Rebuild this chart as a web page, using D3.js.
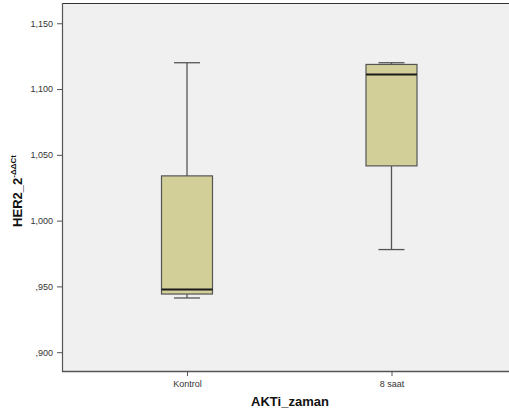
<!DOCTYPE html>
<html><head><meta charset="utf-8">
<script src="https://cdn.jsdelivr.net/npm/d3@7"></script>
<style>body{margin:0;background:#fff}svg{display:block}</style>
</head><body>
<svg id="c" width="509" height="414"></svg>
<script>
const categories = ["Kontrol", "8 saat"];
const mins    = [0.9412, 0.978];
const q1s     = [0.9442, 1.0416];
const medians = [0.9477, 1.111];
const q3s     = [1.034, 1.1187];
const maxs    = [1.120, 1.120];
const yTicks  = [0.90, 0.95, 1.00, 1.05, 1.10, 1.15];
const yTickLabels = [",900", ",950", "1,000", "1,050", "1,100", "1,150"];

const svg = d3.select("#c");
const L = 62, R = 507, T = 3, B = 371;
const y = d3.scaleLinear().domain([0.8857, 1.1654]).range([B, T]);
const x = d3.scalePoint().domain(categories).range([187, 391.5]);

svg.append("rect").attr("x", L).attr("y", T).attr("width", R - L + 2).attr("height", B - T)
  .attr("fill", "#f0f0f0");
svg.append("line").attr("x1", L).attr("x2", 509).attr("y1", T + 0.5).attr("y2", T + 0.5)
  .attr("stroke", "#333").attr("stroke-width", 1);
svg.append("line").attr("x1", L).attr("x2", 509).attr("y1", B + 0.5).attr("y2", B + 0.5)
  .attr("stroke", "#555").attr("stroke-width", 1.5);
svg.append("line").attr("x1", L + 0.5).attr("x2", L + 0.5).attr("y1", T).attr("y2", B + 1)
  .attr("stroke", "#555").attr("stroke-width", 1.2);

// y axis
const yAxis = d3.axisLeft(y).tickValues(yTicks).tickSize(5)
  .tickFormat((d, i) => yTickLabels[i]);
const gy = svg.append("g").attr("transform", `translate(${L},0)`).call(yAxis);
gy.select(".domain").remove();
gy.selectAll("line").attr("stroke", "#555");
gy.selectAll("text").attr("font-family", "Liberation Sans, Arial, sans-serif")
  .attr("font-size", 9).attr("fill", "#333").attr("dx", "-1");

// x axis
const xAxis = d3.axisBottom(x).tickSize(5);
const gx = svg.append("g").attr("transform", `translate(0,${B})`).call(xAxis);
gx.select(".domain").remove();
gx.selectAll("line").attr("stroke", "#555");
gx.selectAll("text").attr("font-family", "Liberation Sans, Arial, sans-serif")
  .attr("font-size", 9).attr("fill", "#333").attr("dy", "0.9em");

// boxes
const boxW = 51, capW = 26;
const data = categories.map((c, i) => ({c, min: mins[i], q1: q1s[i], med: medians[i], q3: q3s[i], max: maxs[i]}));
const g = svg.append("g").selectAll("g").data(data).join("g");
g.append("line").attr("x1", d => x(d.c)).attr("x2", d => x(d.c))
  .attr("y1", d => y(d.max)).attr("y2", d => y(d.q3)).attr("stroke", "#555").attr("stroke-width", 1.3);
g.append("line").attr("x1", d => x(d.c)).attr("x2", d => x(d.c))
  .attr("y1", d => y(d.q1)).attr("y2", d => y(d.min)).attr("stroke", "#555").attr("stroke-width", 1.3);
g.append("line").attr("x1", d => x(d.c) - capW / 2).attr("x2", d => x(d.c) + capW / 2)
  .attr("y1", d => y(d.max)).attr("y2", d => y(d.max)).attr("stroke", "#555").attr("stroke-width", 1.3);
g.append("line").attr("x1", d => x(d.c) - capW / 2).attr("x2", d => x(d.c) + capW / 2)
  .attr("y1", d => y(d.min)).attr("y2", d => y(d.min)).attr("stroke", "#555").attr("stroke-width", 1.3);
g.append("rect").attr("x", d => x(d.c) - boxW / 2).attr("width", boxW)
  .attr("y", d => y(d.q3)).attr("height", d => y(d.q1) - y(d.q3))
  .attr("fill", "#d3cf98").attr("stroke", "#555").attr("stroke-width", 1.2);
g.append("line").attr("x1", d => x(d.c) - boxW / 2).attr("x2", d => x(d.c) + boxW / 2)
  .attr("y1", d => y(d.med)).attr("y2", d => y(d.med)).attr("stroke", "#1a1a1a").attr("stroke-width", 2);

// axis titles
svg.append("text").attr("x", 290).attr("y", 406).attr("text-anchor", "middle")
  .attr("font-family", "Liberation Sans, Arial, sans-serif").attr("font-weight", "bold")
  .attr("font-size", 13).attr("fill", "#111").text("AKTi_zaman");
const yt = svg.append("text").attr("transform", "translate(22,191) rotate(-90)")
  .attr("text-anchor", "middle")
  .attr("font-family", "Liberation Sans, Arial, sans-serif").attr("font-weight", "bold")
  .attr("font-size", 13).attr("fill", "#111");
yt.append("tspan").text("HER2_2");
yt.append("tspan").attr("font-size", 8).attr("dy", "-6").text("-ΔΔCt");
</script>
</body></html>
